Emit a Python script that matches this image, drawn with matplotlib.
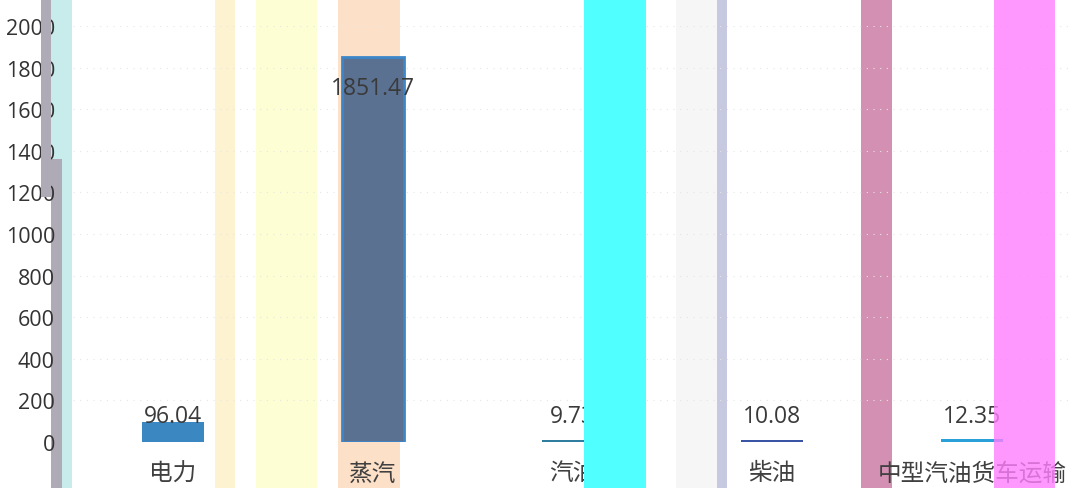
import matplotlib.pyplot as plt
from matplotlib.patches import Rectangle

# values
categories = ['电力', '蒸汽', '汽油', '柴油', '中型汽油货车运输']
values = [96.04, 1851.47, 9.73, 10.08, 12.35]
value_labels = ['96.04', '1851.47', '9.73', '10.08', '12.35']
yticks = [0, 200, 400, 600, 800, 1000, 1200, 1400, 1600, 1800, 2000]

bar_colors = ['#3a87c2', '#5b7191', '#2f7ea0', '#3a55a5', '#2aa0d8']

plt.rcParams['font.family'] = ['Noto Sans CJK SC', 'DejaVu Sans']
num_font = ['Open Sans', 'DejaVu Sans']

W, H = 1072, 489
fig = plt.figure(figsize=(W / 100, H / 100), dpi=100)
ax = fig.add_axes([73 / W, 1 - 443 / H, 1 - 73 / W, (443 - 27) / H])
ax.patch.set_alpha(0)


# coloured vertical stripes across the picture (pixel coords)
def band(x0, x1, color, y0=0, y1=H, z=-1, alpha=1.0):
    r = Rectangle((x0 / W, 1 - y1 / H), (x1 - x0) / W, (y1 - y0) / H,
                  transform=fig.transFigure, facecolor=color, edgecolor='none',
                  zorder=z, alpha=alpha)
    fig.add_artist(r)


band(51, 72, '#c8ecec')
band(51, 62, '#aeaab6', 160, H)
band(215, 235, '#fdf3d0')
band(256, 317, '#fefed4')
band(338, 400, '#fde0c8')
band(676, 717, '#f6f6f6')
band(717, 727, '#c6c9df')
band(861, 892, '#d490b2')
band(41, 51, '#aeaab6', 0, 198, z=5)
band(584, 646, '#50ffff', z=5)
band(994, 1055, '#ff7ffe', z=5, alpha=0.8)

x = range(len(categories))
bars = ax.bar(x, values, width=0.31, color=bar_colors, zorder=2)
bars[1].set_edgecolor('#3d86c8')
bars[1].set_linewidth(2)

for i, (v, lab) in enumerate(zip(values, value_labels)):
    if v > 1000:
        ax.text(i, v - 150, lab, ha='center', va='center', fontsize=16.5,
                color='#3a3a3a', zorder=3, family=num_font)
    else:
        ax.text(i, 68, lab, ha='center', va='bottom', fontsize=16.5,
                color='#3a3a3a', zorder=3, family=num_font)

ax.set_xlim(-0.5, len(categories) - 0.5)
ax.set_ylim(0, 2000)
ax.set_yticks(yticks)
ax.set_yticklabels([str(t) for t in yticks], family=num_font)
ax.set_xticks(list(x))
ax.set_xticklabels(categories)
ax.tick_params(axis='y', length=0, pad=13, labelsize=15.5, labelcolor='#333333')
ax.tick_params(axis='x', length=0, pad=14, labelsize=17, labelcolor='#404040')

for t in yticks[1:]:
    ax.axhline(t, color='#e6e6e6', lw=0.8, ls=(0, (1, 5)), zorder=1)

for s in ax.spines.values():
    s.set_visible(False)

fig.savefig('out.png', dpi=100)
